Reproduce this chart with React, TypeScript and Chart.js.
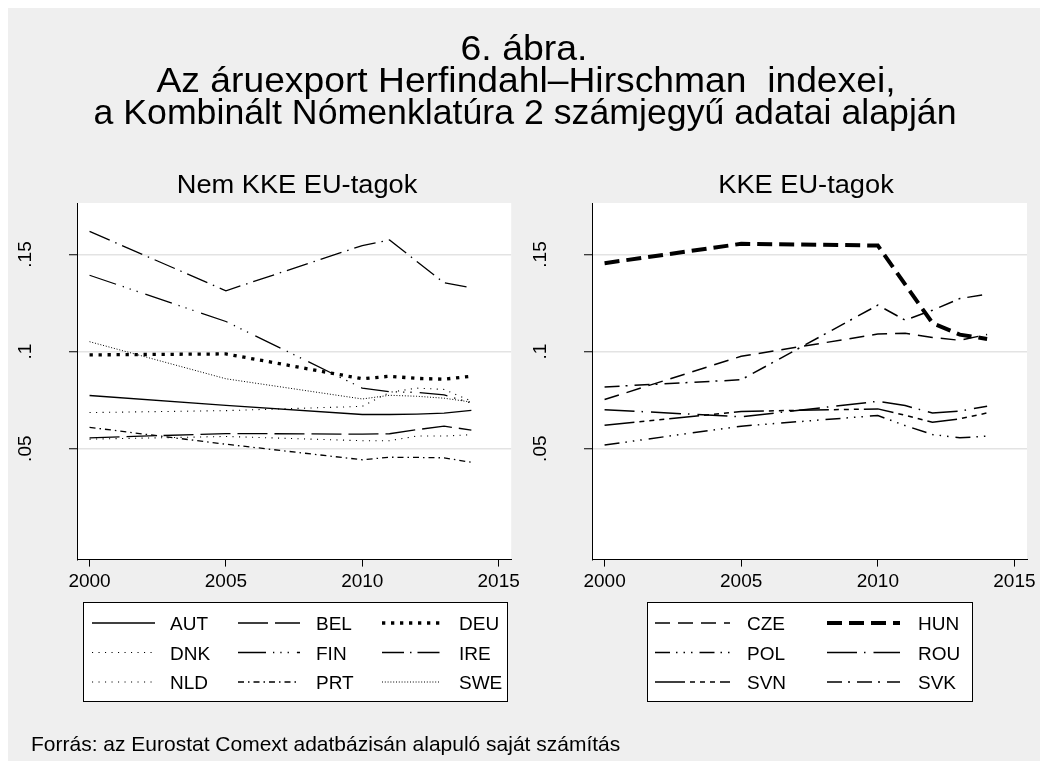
import React, { useEffect, useRef } from "react";
import { Chart, registerables } from "chart.js";

Chart.register(...registerables);

// ---------- data ----------
const years = [2000, 2005, 2010, 2011, 2012, 2013, 2014];
const xTickValues = [2000, 2005, 2010, 2015];
const xTickLabels = ["2000", "2005", "2010", "2015"];
const yTickValues = [0.05, 0.1, 0.15];
const yTickLabels = [".05", ".1", ".15"];

// Nem KKE EU-tagok
const AUT = [0.0774, 0.0723, 0.0676, 0.0676, 0.0678, 0.0683, 0.0697];
const BEL = [0.0556, 0.0578, 0.0575, 0.0577, 0.0598, 0.0616, 0.0596];
const DEU = [0.0983, 0.0988, 0.086, 0.0873, 0.0862, 0.0858, 0.0873];
const DNK = [0.0686, 0.0696, 0.0718, 0.079, 0.0812, 0.0805, 0.0745];
const FIN = [0.1393, 0.1155, 0.0812, 0.0793, 0.079, 0.0777, 0.0735];
const IRE = [0.1619, 0.1313, 0.1546, 0.1575, 0.1464, 0.1354, 0.1328];
const NLD = [0.0549, 0.0563, 0.0541, 0.0541, 0.0565, 0.0565, 0.0572];
const PRT = [0.061, 0.0523, 0.0443, 0.0456, 0.0455, 0.0453, 0.043];
const SWE = [0.1051, 0.086, 0.0756, 0.0775, 0.077, 0.076, 0.074];

// KKE EU-tagok
const CZE = [0.0753, 0.0976, 0.109, 0.1094, 0.1073, 0.1058, 0.1088];
const HUN = [0.1455, 0.1555, 0.1546, 0.1346, 0.1147, 0.1087, 0.1065];
const POL = [0.0519, 0.0616, 0.0671, 0.0619, 0.0573, 0.0556, 0.0565];
const ROU = [0.0701, 0.0664, 0.0744, 0.0722, 0.0684, 0.0694, 0.0718];
const SVN = [0.0621, 0.0692, 0.0705, 0.0672, 0.0636, 0.0654, 0.0684];
const SVK = [0.0818, 0.0855, 0.1239, 0.1162, 0.1213, 0.1273, 0.1295];

const leftNames = ["AUT", "BEL", "DEU", "DNK", "FIN", "IRE", "NLD", "PRT", "SWE"];
const leftValues = [AUT, BEL, DEU, DNK, FIN, IRE, NLD, PRT, SWE];
const rightNames = ["CZE", "HUN", "POL", "ROU", "SVN", "SVK"];
const rightValues = [CZE, HUN, POL, ROU, SVN, SVK];

const titleLines = [
  "6. ábra.",
  "Az áruexport Herfindahl–Hirschman  indexei,",
  "a Kombinált Nómenklatúra 2 számjegyű adatai alapján",
];
const leftSubtitle = "Nem KKE EU-tagok";
const rightSubtitle = "KKE EU-tagok";
const footnote = "Forrás: az Eurostat Comext adatbázisán alapuló saját számítás";

// ---------- styles ----------
const FONT = "'Liberation Sans', Arial, Helvetica, sans-serif";
const BG = "#efefef";
const GRID = "#e3e3e3";

type LineStyle = { w: number; dash: number[] };
const lineStyles: Record<string, LineStyle> = {
  AUT: { w: 1.3, dash: [] },
  BEL: { w: 1.3, dash: [30, 7] },
  DEU: { w: 3.3, dash: [3.3, 5.7] },
  DNK: { w: 1.1, dash: [1.1, 5.4] },
  FIN: { w: 1.3, dash: [28, 7, 1.3, 6, 1.3, 6, 1.3, 8] },
  IRE: { w: 1.3, dash: [22, 6, 1.5, 6] },
  NLD: { w: 1.1, dash: [1.1, 5.4] },
  PRT: { w: 1.3, dash: [6, 4, 1.5, 4] },
  SWE: { w: 1.0, dash: [1, 1.8] },
  CZE: { w: 1.5, dash: [15, 8] },
  HUN: { w: 4, dash: [15, 7] },
  POL: { w: 1.5, dash: [15, 6, 1.5, 6, 1.5, 6, 1.5, 7] },
  ROU: { w: 1.5, dash: [30, 7, 1.5, 8] },
  SVN: { w: 1.5, dash: [30, 5, 5, 5, 5, 5, 5, 5] },
  SVK: { w: 1.5, dash: [15, 6, 2, 7] },
};

const X_MIN = 1999.54;
const X_MAX = 2015.46;
const Y_MIN = -0.0071;
const Y_MAX = 0.1765;

const CANVAS_W = 516;
const CANVAS_H = 441;
const CANVAS_TOP = 152; // relative to gray box

const whiteArea = {
  id: "whiteArea",
  beforeDraw(chart: any) {
    const { ctx, chartArea } = chart;
    ctx.save();
    ctx.fillStyle = "#ffffff";
    ctx.fillRect(chartArea.left, chartArea.top, chartArea.right - chartArea.left, chartArea.bottom - chartArea.top);
    ctx.restore();
  },
};

function Panel(props: { names: string[]; values: number[][]; left: number; yAxisWidth: number; padRight: number }) {
  const ref = useRef<HTMLCanvasElement>(null);
  useEffect(() => {
    if (!ref.current) return;
    const chart = new Chart(ref.current, {
      type: "line",
      data: {
        datasets: props.names.map((name, i) => {
          const st = lineStyles[name];
          return {
            label: name,
            data: years.map((yr, j) => ({ x: yr, y: props.values[i][j] })),
            borderColor: "#000",
            backgroundColor: "#000",
            borderWidth: st.w,
            borderDash: st.dash,
            borderCapStyle: "butt",
            borderJoinStyle: "miter",
            pointRadius: 0,
            pointHoverRadius: 0,
            fill: false,
            tension: 0,
          } as any;
        }),
      },
      options: {
        animation: false,
        responsive: false,
        events: [],
        layout: { padding: { top: 43, right: props.padRight, left: 0, bottom: 0 } },
        plugins: {
          legend: { display: false },
          tooltip: { enabled: false },
          title: { display: false },
        },
        scales: {
          x: {
            type: "linear",
            min: X_MIN,
            max: X_MAX,
            afterBuildTicks: (scale: any) => {
              scale.ticks = xTickValues.map((v) => ({ value: v }));
            },
            afterFit: (scale: any) => {
              scale.height = 40;
            },
            grid: {
              display: true,
              drawOnChartArea: false,
              drawTicks: true,
              tickLength: 7,
              tickColor: "#000",
              tickWidth: 1,
            },
            border: { display: true, color: "#000", width: 1 },
            ticks: {
              autoSkip: false,
              maxRotation: 0,
              minRotation: 0,
              padding: 4,
              color: "#000",
              font: { family: FONT, size: 19 },
              callback: (_v: any, i: number) => xTickLabels[i],
            },
          },
          y: {
            type: "linear",
            min: Y_MIN,
            max: Y_MAX,
            afterBuildTicks: (scale: any) => {
              scale.ticks = yTickValues.map((v) => ({ value: v }));
            },
            afterFit: (scale: any) => {
              scale.width = props.yAxisWidth;
            },
            grid: {
              display: true,
              drawOnChartArea: true,
              color: GRID,
              lineWidth: 1.5,
              drawTicks: true,
              tickLength: 8,
              tickColor: "#000",
              tickWidth: 1,
            },
            border: { display: true, color: "#000", width: 1 },
            ticks: {
              autoSkip: false,
              minRotation: 90,
              maxRotation: 90,
              crossAlign: "center",
              padding: 30,
              color: "#000",
              font: { family: FONT, size: 19 },
              callback: (_v: any, i: number) => yTickLabels[i],
            },
          },
        },
      } as any,
      plugins: [whiteArea],
    });
    return () => chart.destroy();
  }, []);
  return (
    <canvas
      ref={ref}
      width={CANVAS_W}
      height={CANVAS_H}
      style={{ position: "absolute", left: props.left, top: CANVAS_TOP, width: CANVAS_W, height: CANVAS_H }}
    />
  );
}

// legend layout (page coordinates)
const legendRows = [
  { cy: 623, by: 630 },
  { cy: 652.5, by: 659.5 },
  { cy: 682, by: 689 },
];
const leftLegendCols = [
  { s1: 92, s2: 155, lx: 170 },
  { s1: 238, s2: 300, lx: 316 },
  { s1: 382, s2: 440, lx: 459 },
];
const rightLegendCols = [
  { s1: 655, s2: 730, lx: 747 },
  { s1: 827, s2: 900, lx: 918 },
];

function Legend(props: { names: string[]; cols: { s1: number; s2: number; lx: number }[]; box: { x: number; y: number; w: number; h: number } }) {
  const { names, cols, box } = props;
  return (
    <g>
      <rect x={box.x + 0.5} y={box.y + 0.5} width={box.w} height={box.h} fill="#fff" stroke="#000" strokeWidth={1} />
      {names.map((n, i) => {
        const c = cols[i % cols.length];
        const r = legendRows[Math.floor(i / cols.length)];
        const st = lineStyles[n];
        return (
          <g key={n}>
            <line
              x1={c.s1}
              x2={c.s2}
              y1={r.cy}
              y2={r.cy}
              stroke="#000"
              strokeWidth={st.w}
              strokeDasharray={st.dash.length ? st.dash.join(" ") : undefined}
            />
            <text x={c.lx} y={r.by} fontSize={19} fontFamily={FONT} fill="#000">
              {n}
            </text>
          </g>
        );
      })}
    </g>
  );
}

function ScaledText(props: { x: number; y: number; size: number; sx: number; anchor: string; children: string }) {
  return (
    <g transform={`translate(${props.x} ${props.y}) scale(${props.sx} 1)`}>
      <text x={0} y={0} fontSize={props.size} fontFamily={FONT} fill="#000" textAnchor={props.anchor as any} style={{ whiteSpace: "pre" }}>
        {props.children}
      </text>
    </g>
  );
}

export default function App() {
  return (
    <div style={{ position: "relative", width: 1032, height: 753, background: BG, overflow: "hidden", fontFamily: FONT }}>
      <Panel names={leftNames} values={leftValues} left={0} yAxisWidth={69} padRight={8} />
      <Panel names={rightNames} values={rightValues} left={516} yAxisWidth={68} padRight={13} />
      <svg width={1032} height={753} style={{ position: "absolute", left: 0, top: 0, pointerEvents: "none" }}>
        <g transform="translate(-8 -8)">
          <ScaledText x={524} y={59.5} size={34.5} sx={1.085} anchor="middle">{titleLines[0]}</ScaledText>
          <ScaledText x={526} y={91.7} size={34.5} sx={1.08} anchor="middle">{titleLines[1]}</ScaledText>
          <ScaledText x={525} y={123.5} size={34.5} sx={1.035} anchor="middle">{titleLines[2]}</ScaledText>
          <ScaledText x={297} y={193} size={25} sx={1.09} anchor="middle">{leftSubtitle}</ScaledText>
          <ScaledText x={806} y={193} size={25} sx={1.09} anchor="middle">{rightSubtitle}</ScaledText>
          <Legend names={leftNames} cols={leftLegendCols} box={{ x: 83, y: 602, w: 424, h: 99 }} />
          <Legend names={rightNames} cols={rightLegendCols} box={{ x: 647, y: 602, w: 325, h: 99 }} />
          <ScaledText x={31} y={751} size={20} sx={1.05} anchor="start">{footnote}</ScaledText>
        </g>
      </svg>
    </div>
  );
}
